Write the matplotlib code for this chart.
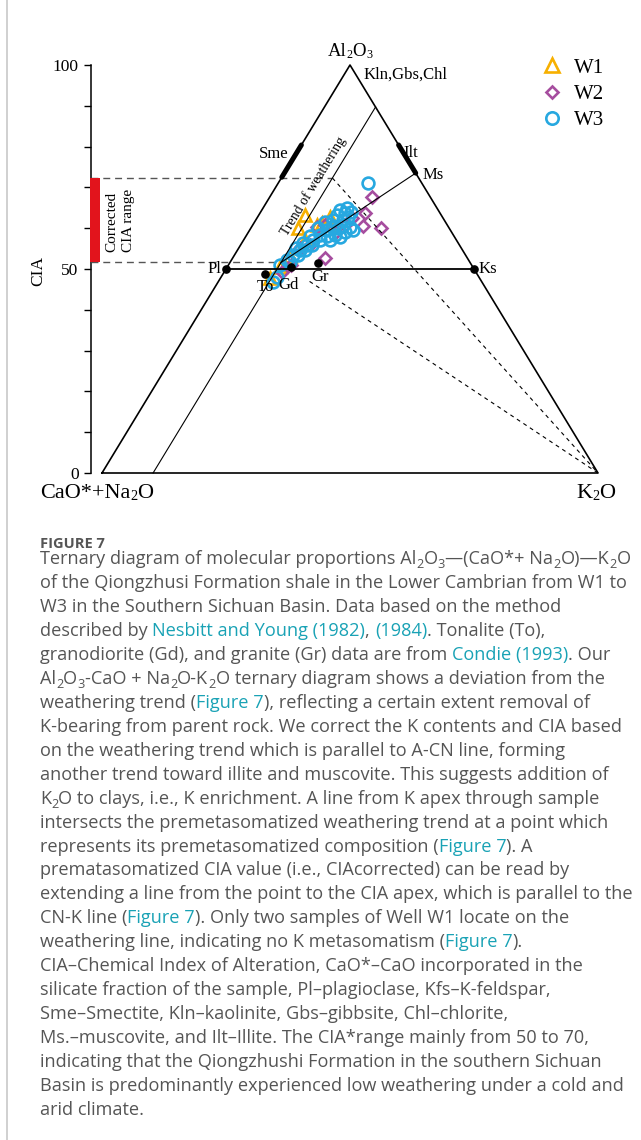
import re
import numpy as np
import matplotlib.pyplot as plt
from matplotlib.font_manager import FontProperties

plt.rcParams['font.family'] = 'Liberation Serif'

# sample compositions, molar %  (a = Al2O3, k = K2O, CaO*+Na2O is the rest)
w1_a = [63.2, 60.0, 60.8, 62.8, 61.2, 60.8, 50.6, 47.9, 57.1, 53.2]
w1_k = [9.3, 9.6, 12.9, 14.6, 13.8, 16.2, 10.6, 9.9, 12.4, 11.3]
w2_a = [67.7, 63.8, 60.6, 60.1, 52.6, 60.4, 60.8, 55.1, 51.0, 60.8, 62.5, 55.9, 59.1, 49.3]
w2_k = [20.5, 21.1, 22.3, 26.3, 18.6, 13.1, 14.6, 12.4, 12.6, 18.6, 19.2, 14.0, 17.6, 11.6]
w3_a = [71.0, 64.5, 64.9, 64.0, 63.2, 62.0, 60.4, 59.6, 59.1, 57.9, 60.4, 59.6, 58.3, 57.1,
        55.9, 54.7, 53.4, 52.2, 51.0, 48.1, 46.9, 62.0, 61.5, 60.0, 58.1, 56.4, 55.1, 58.3,
        57.1, 63.7, 51.7, 53.4, 54.7, 55.9, 57.1, 58.1, 62.7, 60.0]
w3_k = [18.2, 15.7, 16.9, 18.3, 15.7, 17.6, 19.8, 20.8, 19.4, 19.0, 16.1, 15.5, 14.8, 14.0,
        13.3, 12.6, 11.8, 11.1, 10.4, 11.2, 11.1, 15.6, 14.2, 13.6, 12.9, 12.3, 11.6, 17.8,
        17.4, 17.1, 12.1, 12.8, 13.6, 14.4, 15.4, 16.3, 18.3, 17.6]

# tonalite, granodiorite, granite (Condie 1993)
rock_names = ['To', 'Gd', 'Gr']
rock_a = [48.8, 50.5, 51.5]
rock_k = [8.5, 12.9, 17.8]

# minerals
feldspar_a = 50.0          # Pl and Ks
ms_a = 73.5                # muscovite on the A-K join
ilt_a = [73.5, 80.4]       # illite field on the A-K join
sme_a = [72.5, 80.4]       # smectite field on the A-CN join
trend_k = 10.3             # weathering trend, parallel to A-CN
cia_corr = [51.6, 72.3]    # corrected CIA range

cia_ticks = list(range(0, 101, 10))

# ---- figure geometry (pixels) ----
PX_W, PX_H = 641, 1140
X0, XSPAN = 102, 496        # CN apex x, base length
Y0, YSCALE = 473, 4.08      # base y, pixels per CIA unit
CHART_H = 520
PT = 100 / 72

fig = plt.figure(figsize=(PX_W / 100, PX_H / 100), dpi=100)
fig.patch.set_facecolor('white')

ax = fig.add_axes([0, 1 - CHART_H / PX_H, 1, CHART_H / PX_H])
ax.set_facecolor('none')
ax.set_xlim(-X0 / XSPAN, (PX_W - X0) / XSPAN)
ax.set_ylim(-(CHART_H - Y0) / YSCALE, Y0 / YSCALE)

tax = fig.add_axes([0, 0, 1, 1], zorder=-1)
tax.set_xlim(0, PX_W)
tax.set_ylim(PX_H, 0)
tax.axis('off')


def tern(a, k):
    a = np.asarray(a, float)
    k = np.asarray(k, float)
    return k / 100 + a / 200, a


# ---- triangle and guide lines ----
x, y = tern([0, 0, 100, 0], [0, 100, 0, 0])
ax.plot(x, y, color='k', lw=1.2, zorder=4)
ax.plot(*tern([feldspar_a, feldspar_a], [0, 100 - feldspar_a]), color='k', lw=1.3, zorder=4)
ax.plot(*tern([0, 100 - trend_k], [trend_k, trend_k]), color='k', lw=0.8, zorder=4)
ax.plot(*tern([cia_corr[0], ms_a], [trend_k, 100 - ms_a]), color='k', lw=0.8, zorder=4)
ax.plot(*tern(ilt_a, [100 - v for v in ilt_a]), color='k', lw=3.6,
        solid_capstyle='round', zorder=4)
ax.plot(*tern(sme_a, [0, 0]), color='k', lw=3.6, solid_capstyle='round', zorder=4)

axis_x = (91 - X0) / XSPAN
kx, ky = tern(0, 100)
for i, c in enumerate(cia_corr):
    px, py = tern(c, trend_k)
    ax.plot([axis_x, px], [c, c], color='#555555', lw=1.0, dashes=(5, 3.5), zorder=3)
    # lower guide starts clear of the Gd label
    t0 = 0.09 if i == 0 else 0.0
    sx, sy = px + t0 * (kx - px), py + t0 * (ky - py)
    ax.plot([sx, kx], [sy, ky], color='k', lw=0.8, dashes=(3.5, 3.5), zorder=3)

ax.fill_betweenx(cia_corr, (90 - X0) / XSPAN, (100 - X0) / XSPAN, color='#e2141c',
                 lw=0, zorder=3)
ax.text((120 - X0) / XSPAN, np.mean(cia_corr), 'Corrected\nCIA range', rotation=90,
        ha='center', va='center', multialignment='left', linespacing=1.35, fontsize=11)

# ---- samples ----
h1, = ax.plot(*tern(w1_a, w1_k), ls='none', marker='^', ms=9, mfc='none',
              mec='#f7b000', mew=1.9, label='W1', zorder=2)
h2, = ax.plot(*tern(w2_a, w2_k), ls='none', marker='D', ms=6.2, mfc='none',
              mec='#a64d9f', mew=1.9, label='W2', zorder=2)
h3, = ax.plot(*tern(w3_a, w3_k), ls='none', marker='o', ms=8.5, mfc='none',
              mec='#27a8e0', mew=1.9, label='W3', zorder=3)

ax.legend(handles=[h1, h2, h3], loc='upper left', bbox_to_anchor=(542 / PX_W, 1 - 58 / PX_H),
          bbox_transform=fig.transFigure, frameon=False, fontsize=15, handlelength=1.0,
          handletextpad=0.55, labelspacing=0.32, borderpad=0, borderaxespad=0,
          markerscale=1.05)

# ---- reference points and labels ----
ax.plot(*tern(rock_a, rock_k), ls='none', marker='o', ms=5.2, color='k', zorder=5)
ax.plot(*tern([feldspar_a, feldspar_a], [0, 100 - feldspar_a]), ls='none', marker='o',
        ms=5.2, color='k', zorder=5)

lab = dict(textcoords='offset points', fontsize=12, va='center', zorder=6)
ax.annotate('Pl', tern(feldspar_a, 0), xytext=(-3.5, 0), ha='right', **lab)
ax.annotate('Ks', tern(feldspar_a, 100 - feldspar_a), xytext=(3.5, 0), ha='left', **lab)
ax.annotate('Ms', tern(ms_a, 100 - ms_a), xytext=(5, -1.4), ha='left', **lab)
ax.annotate('Ilt', tern(ilt_a[1], 100 - ilt_a[1]), xytext=(3.5, -6), ha='left', **lab)
ax.annotate('Sme', tern(sme_a[1], 0), xytext=(-9, -6.5), ha='right', **lab)
ax.annotate('Kln,Gbs,Chl', tern(100, 0), xytext=(10, -7), ha='left', **lab)
for name, a, k, off in zip(rock_names, rock_a, rock_k, [(0, -9.5), (-2, -13), (1.4, -10)]):
    ax.annotate(name, tern(a, k), xytext=off, ha='center', **lab)

p0 = ax.transData.transform(np.column_stack(tern([0, 100 - trend_k], [trend_k, trend_k])))
ang = np.degrees(np.arctan2(*(p0[1] - p0[0])[::-1]))
ax.annotate('Trend of weathering', tern(68.9, trend_k), xytext=(-7.3, 4.4),
            textcoords='offset points', rotation=ang, rotation_mode='anchor',
            ha='center', va='center', fontsize=10, zorder=6)

# ---- CIA axis ----
for s in ['top', 'right', 'bottom']:
    ax.spines[s].set_visible(False)
ax.spines['left'].set_position(('data', axis_x))
ax.spines['left'].set_bounds(0, 100)
ax.spines['left'].set_linewidth(1.1)
ax.set_xticks([])
ax.set_yticks(cia_ticks)
ax.set_yticklabels([str(v) if v % 50 == 0 else '' for v in cia_ticks])
ax.tick_params(axis='y', direction='out', length=5, width=1.0, pad=4, labelsize=12.5)
ax.set_ylabel('CIA', fontsize=12.5)
ax.yaxis.set_label_coords(46 / PX_W, (CHART_H - 271) / CHART_H)

# ---- text with subscripts / coloured runs ----
renderer = fig.canvas.get_renderer()


def text_runs(x, y, runs, size, family, color, weight='normal', ha='left',
              sub=0.65, drop=0.2):
    pieces = []
    for s, col in runs:
        for part in re.split(r'(_.)', s):
            if not part:
                continue
            if part.startswith('_') and len(part) == 2:
                pieces.append((part[1], col or color, size * sub, size * drop * PT))
            else:
                pieces.append((part, col or color, size, 0))

    def width(s, fs):
        fp = FontProperties(family=family, size=fs, weight=weight)
        w1 = renderer.get_text_width_height_descent(s + '|', fp, ismath=False)[0]
        w0 = renderer.get_text_width_height_descent('|', fp, ismath=False)[0]
        return w1 - w0

    widths = [width(p[0], p[2]) for p in pieces]
    if ha == 'center':
        x -= sum(widths) / 2
    for (s, col, fs, dy), w in zip(pieces, widths):
        tax.text(x, y + dy, s, fontsize=fs, color=col, family=family, weight=weight,
                 va='baseline', ha='left')
        x += w


serif = 'Liberation Serif'
text_runs(350, 56.5, [('Al_2O_3', None)], 13.5, serif, 'k', ha='center', drop=0.08)
text_runs(40, 498, [('CaO*+Na_2O', None)], 16, serif, 'k', drop=0.08)
text_runs(576, 498, [('K_2O', None)], 16, serif, 'k', drop=0.08)

# ---- caption ----
TXT = '#555555'
LINK = '#19a2b5'
sans = 'Open Sans'
cap_lines = [
    [('Ternary diagram of molecular proportions Al_2O_3—(CaO*+ Na_2O)—K_2O', None)],
    [('of the Qiongzhusi Formation shale in the Lower Cambrian from W1 to', None)],
    [('W3 in the Southern Sichuan Basin. Data based on the method', None)],
    [('described by ', None), ('Nesbitt and Young (1982)', LINK), (', ', None),
     ('(1984)', LINK), ('. Tonalite (To),', None)],
    [('granodiorite (Gd), and granite (Gr) data are from ', None), ('Condie (1993)', LINK),
     ('. Our', None)],
    [('Al_2O_3-CaO + Na_2O-K_2O ternary diagram shows a deviation from the', None)],
    [('weathering trend (', None), ('Figure 7', LINK),
     ('), reflecting a certain extent removal of', None)],
    [('K-bearing from parent rock. We correct the K contents and CIA based', None)],
    [('on the weathering trend which is parallel to A-CN line, forming', None)],
    [('another trend toward illite and muscovite. This suggests addition of', None)],
    [('K_2O to clays, i.e., K enrichment. A line from K apex through sample', None)],
    [('intersects the premetasomatized weathering trend at a point which', None)],
    [('represents its premetasomatized composition (', None), ('Figure 7', LINK),
     ('). A', None)],
    [('prematasomatized CIA value (i.e., CIAcorrected) can be read by', None)],
    [('extending a line from the point to the CIA apex, which is parallel to the', None)],
    [('CN-K line (', None), ('Figure 7', LINK),
     ('). Only two samples of Well W1 locate on the', None)],
    [('weathering line, indicating no K metasomatism (', None), ('Figure 7', LINK),
     (').', None)],
    [('CIA–Chemical Index of Alteration, CaO*–CaO incorporated in the', None)],
    [('silicate fraction of the sample, Pl–plagioclase, Kfs–K-feldspar,', None)],
    [('Sme–Smectite, Kln–kaolinite, Gbs–gibbsite, Chl–chlorite,', None)],
    [('Ms.–muscovite, and Ilt–Illite. The CIA*range mainly from 50 to 70,', None)],
    [('indicating that the Qiongzhushi Formation in the southern Sichuan', None)],
    [('Basin is predominantly experienced low weathering under a cold and', None)],
    [('arid climate.', None)],
]

text_runs(40, 547.5, [('FIGURE 7', None)], 10.5, sans, TXT, weight='bold')
for i, line in enumerate(cap_lines):
    text_runs(40, 564 + i * 23.96, line, 13.1, sans, TXT, sub=0.7, drop=0.22)

# left rule
tax.plot([7, 7], [0, PX_H], color='#c8c8c8', lw=1.2)

fig.savefig('out.png', dpi=100, facecolor='white')
